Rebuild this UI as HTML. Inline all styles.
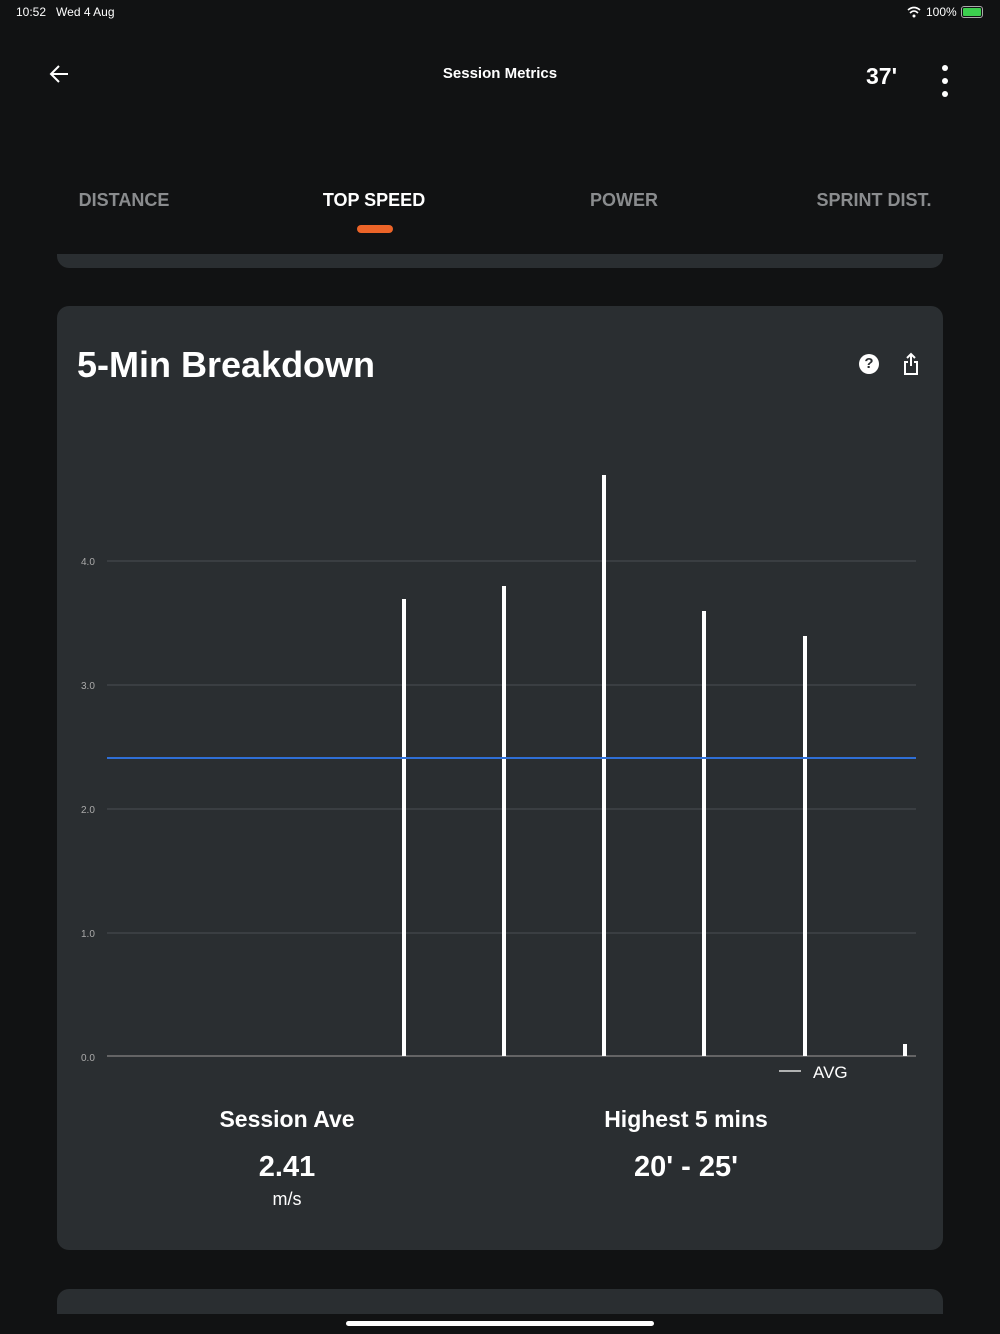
<!DOCTYPE html>
<html><head><style>
html,body{margin:0;width:1000px;height:1334px;overflow:hidden}
body{background:#111213;font-family:"Liberation Sans",sans-serif;color:#fff;position:relative}
.a{position:absolute}
.tab{position:absolute;top:190px;font-size:18px;font-weight:bold;color:#8a8c8e;transform:translateX(-50%)}
.card{position:absolute;background:#2a2e31;border-radius:12px}
</style></head><body>
<div class="a" style="left:16px;top:5px;font-size:12px">10:52&nbsp;&nbsp; Wed 4 Aug</div>
<div class="a" style="left:926px;top:5px;font-size:12px">100%</div>
<div class="a" style="left:961px;top:6px;width:20px;height:10px;border:1px solid #aaa;border-radius:3px"><div style="margin:1px;height:8px;background:#3ccf4e;border-radius:1px"></div></div>
<svg class="a" style="left:907px;top:6px" width="14" height="12"><path d="M1 4 Q7 -1 13 4 M3 7 Q7 3 11 7" stroke="#fff" stroke-width="1.6" fill="none"/><circle cx="7" cy="10" r="1.5" fill="#fff"/></svg>
<svg class="a" style="left:48px;top:62px" width="24" height="24"><path d="M20 12H4M11 4L3 12L11 20" stroke="#fff" stroke-width="2" fill="none"/></svg>
<div class="a" style="left:0;width:1000px;top:65px;text-align:center;font-size:15px;font-weight:bold">Session Metrics</div>
<div class="a" style="left:866px;top:63px;font-size:23px;font-weight:bold">37'</div>
<div class="a" style="left:942px;top:65px;width:6px;height:6px;border-radius:3px;background:#fff;box-shadow:0 13px 0 #fff,0 26px 0 #fff"></div>
<div class="tab" style="left:124px">DISTANCE</div>
<div class="tab" style="left:374px;color:#fff">TOP SPEED</div>
<div class="tab" style="left:624px">POWER</div>
<div class="tab" style="left:874px">SPRINT DIST.</div>
<div class="a" style="left:357px;top:225px;width:36px;height:8px;border-radius:4px;background:#ec6428"></div>
<div class="card" style="left:57px;top:254px;width:886px;height:14px;border-radius:0 0 12px 12px"></div>
<div class="card" style="left:57px;top:306px;width:886px;height:944px"></div>
<div class="a" style="left:77px;top:344px;font-size:36px;font-weight:bold">5-Min Breakdown</div>
<div class="a" style="left:859px;top:354px;width:20px;height:20px;border-radius:10px;background:#fff;color:#2a2e31;font-size:15px;font-weight:bold;text-align:center;line-height:20px">?</div>
<svg class="a" style="left:902px;top:352px" width="18" height="24"><path d="M9 2V14M5 6L9 2L13 6M6 10H3V22H15V10H12" stroke="#fff" stroke-width="2" fill="none"/></svg>
<svg class="a" style="left:0;top:0" width="1000" height="1334">
<g stroke="#4a4e52" stroke-width="1">
<line x1="107" x2="916" y1="561" y2="561"/><line x1="107" x2="916" y1="685" y2="685"/><line x1="107" x2="916" y1="809" y2="809"/><line x1="107" x2="916" y1="933" y2="933"/></g>
<line x1="107" x2="916" y1="1056" y2="1056" stroke="#777" stroke-width="1.5"/>
<g font-size="10" fill="#aaa" font-family="Liberation Sans"><text x="81" y="565">4.0</text><text x="81" y="689">3.0</text><text x="81" y="813">2.0</text><text x="81" y="937">1.0</text><text x="81" y="1061">0.0</text></g>
<g fill="#fff"><rect x="402" y="599" width="4" height="457"/><rect x="502" y="586" width="4" height="470"/><rect x="602" y="475" width="4" height="581"/><rect x="702" y="611" width="4" height="445"/><rect x="803" y="636" width="4" height="420"/><rect x="903" y="1044" width="4" height="12"/></g>
<line x1="107" x2="916" y1="758" y2="758" stroke="#2f6fd6" stroke-width="2"/>
<line x1="779" x2="801" y1="1071" y2="1071" stroke="#ddd" stroke-width="1.5"/>
<text x="813" y="1078" font-size="17" fill="#fff" font-family="Liberation Sans">AVG</text>
</svg>
<div class="a" style="left:187px;width:200px;top:1106px;text-align:center;font-size:23px;font-weight:bold">Session Ave</div>
<div class="a" style="left:187px;width:200px;top:1151px;text-align:center;font-size:29px;font-weight:bold">2.41</div>
<div class="a" style="left:187px;width:200px;top:1189px;text-align:center;font-size:18px">m/s</div>
<div class="a" style="left:536px;width:300px;top:1106px;text-align:center;font-size:23px;font-weight:bold">Highest 5 mins</div>
<div class="a" style="left:536px;width:300px;top:1151px;text-align:center;font-size:29px;font-weight:bold">20' - 25'</div>
<div class="card" style="left:57px;top:1289px;width:886px;height:25px;border-radius:12px 12px 0 0"></div>
<div class="a" style="left:346px;top:1321px;width:308px;height:5px;border-radius:3px;background:#fff"></div>
</body></html>
